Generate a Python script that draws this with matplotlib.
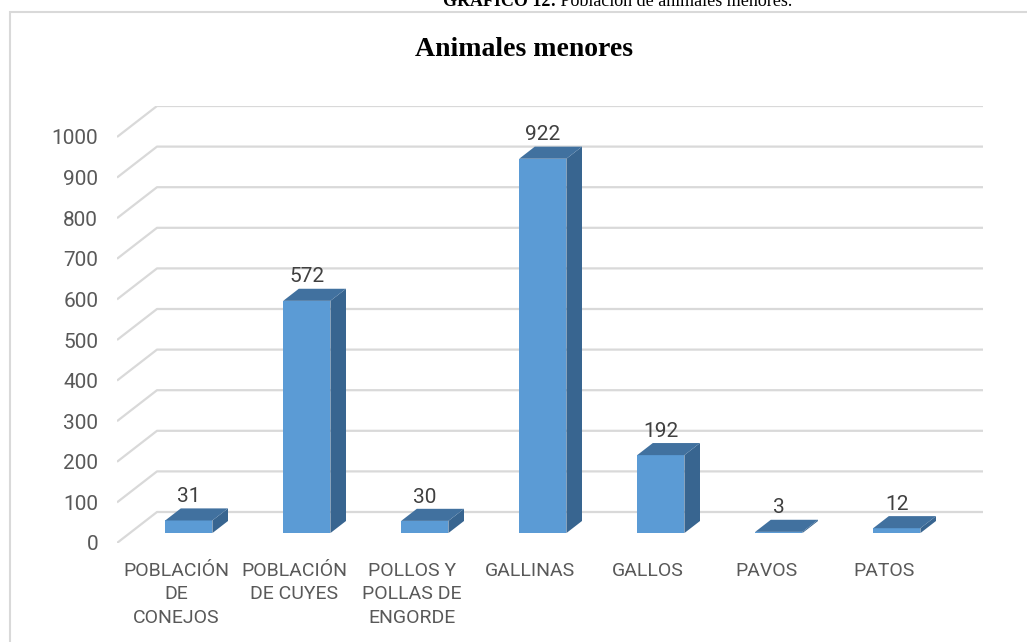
import matplotlib
matplotlib.use("Agg")
import matplotlib.pyplot as plt
from matplotlib.patches import Polygon, Rectangle

categories = ["POBLACIÓN\nDE\nCONEJOS", "POBLACIÓN\nDE CUYES", "POLLOS Y\nPOLLAS DE\nENGORDE",
              "GALLINAS", "GALLOS", "PAVOS", "PATOS"]
values = [31, 572, 30, 922, 192, 3, 12]
yticks = list(range(0, 1001, 100))

W, H = 1027, 642
fig = plt.figure(figsize=(W / 100, H / 100), dpi=100)
fig.patch.set_facecolor("white")

# depth offset of the pseudo-3D floor/wall
DX = 40 / 118.0      # in category units
DY = 31 / 0.406      # in value units
n = len(categories)
left_px, right_px = 117, 117 + 118 * (n + DX)
bot_px = 543
top_px = 543 - 0.406 * (1000 + DY)
ax = fig.add_axes([left_px / W, 1 - bot_px / H, (right_px - left_px) / W, (bot_px - top_px) / H])
ax.set_xlim(-0.5, n - 0.5 + DX)
ax.set_ylim(0, 1000 + DY)
for s in ax.spines.values():
    s.set_visible(False)

grid_c = "#D9D9D9"
for v in yticks:
    ax.plot([-0.5, -0.5 + DX, n - 0.5 + DX], [v, v + DY, v + DY], color=grid_c, lw=1.6,
            solid_capstyle="butt", zorder=1)

def P(x, v, d):
    return (x + d * DX, v + d * DY)

d0, d1 = 0.32, 0.71
hw = 0.2
front_c, top_c, side_c = "#5B9BD5", "#41719F", "#386590"
for i, v in enumerate(values):
    front = [P(i - hw, 0, d0), P(i + hw, 0, d0), P(i + hw, v, d0), P(i - hw, v, d0)]
    side = [P(i + hw, 0, d0), P(i + hw, 0, d1), P(i + hw, v, d1), P(i + hw, v, d0)]
    top = [P(i - hw, v, d0), P(i + hw, v, d0), P(i + hw, v, d1), P(i - hw, v, d1)]
    ax.add_patch(Polygon(side, closed=True, fc=side_c, ec="none", zorder=3))
    ax.add_patch(Polygon(front, closed=True, fc=front_c, ec="none", zorder=3))
    ax.add_patch(Polygon(top, closed=True, fc=top_c, ec="none", zorder=4))
    ax.annotate(str(v), xy=(i + d0 * DX, v + d1 * DY), xytext=(0, 8.5), textcoords="offset points",
                ha="center", va="center", fontsize=15, color="#404040",
                family="Roboto", zorder=5)

ax.set_yticks(yticks)
ax.set_yticklabels([str(t) for t in yticks], fontsize=15, color="#595959", family="Roboto")
ax.tick_params(axis="y", length=0, pad=13.5)
ax.set_xticks(range(n))
ax.set_xticklabels(categories, fontsize=14, color="#595959", family="Roboto", linespacing=1.4)
ax.tick_params(axis="x", length=0, pad=13.5)

# title
fig.text(524 / W, 1 - 50 / H, "Animales menores", ha="center", va="center",
         fontsize=20, fontweight="bold", family="Liberation Serif", color="black")

# outer chart frame
fig.add_artist(Rectangle((9.5 / W, -0.2), 2, 1 - 11.5 / H + 0.2, transform=fig.transFigure,
                         fill=False, ec=grid_c, lw=1.5))

# caption at top (cropped by the page edge in the reference)
t1 = fig.text(443 / W, 1 - 6.5 / H, "GRÁFICO 12:", ha="left", va="baseline",
              fontsize=13, fontweight="bold", family="Liberation Serif", color="black")
ax.annotate(" Población de animales menores.", xy=(1, 0), xycoords=t1, va="bottom", ha="left",
            fontsize=13, family="Liberation Serif", color="black", annotation_clip=False)

fig.savefig("out.png", dpi=100, facecolor="white")
